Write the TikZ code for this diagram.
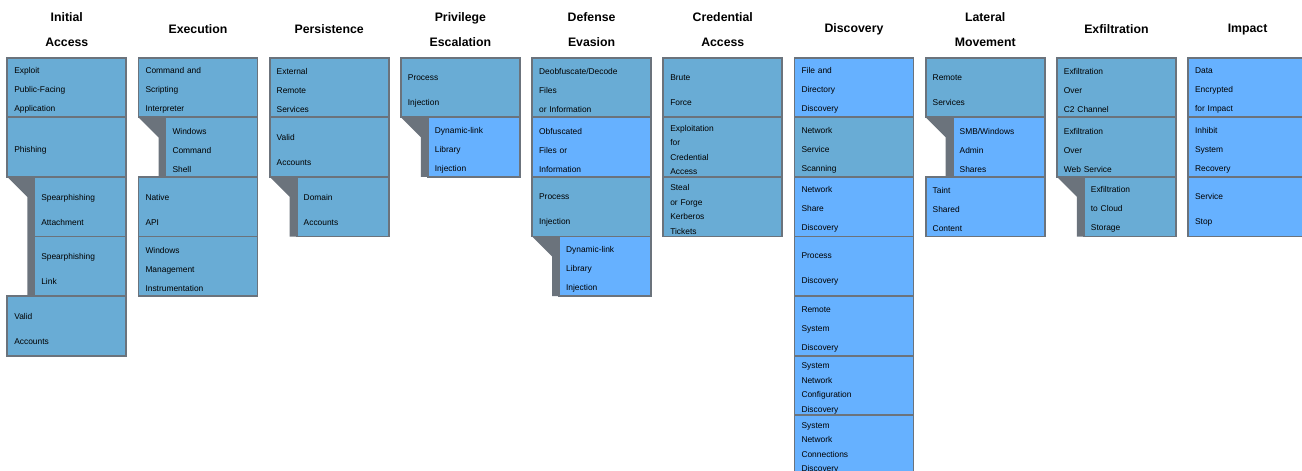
\documentclass[tikz,border=0pt]{standalone}
\usepackage{fontspec}
\setmainfont{Liberation Sans}
\definecolor{steel}{HTML}{69ACD5}
\definecolor{sky}{HTML}{66B1FF}
\definecolor{slate}{HTML}{6B737C}
\usetikzlibrary{calc, positioning, backgrounds}
\tikzset{
  tactic/.style={font=\fontsize{12.3}{25.5}\selectfont\bfseries, align=center},
  tech/.style={draw=slate, line width=1.8pt, outer sep=0pt, inner xsep=7pt, inner ysep=0pt,
    anchor=north west, minimum width=119pt, minimum height=59.6pt, text width=105pt,
    align=left, fill=steel, font=\fontsize{8.4}{19}\selectfont,
    execute at begin node={\rule{0pt}{12pt}}},
  sub/.style={tech, minimum width=92pt, text width=78pt},
  hit/.style={fill=sky},
  two/.style={font=\fontsize{8.4}{25}\selectfont},
  four/.style={font=\fontsize{8.4}{14.5}\selectfont},
  bar/.style={fill=slate},
}
\newcommand{\subbar}[3]{\fill[bar] (#1.south west) -- (#2.north west) -- (#2.west |- #3.south) -- ++(-7,0) -- ($(#1.south west)+(20,20)$) -- cycle;}

\begin{document}
\begin{tikzpicture}[x=1pt, y=-1pt]
  \useasboundingbox (0,0) rectangle (1302,471);
  \clip (0,0) rectangle (1302,471);

  % Initial Access
  \node[tech] (ia1) at (7.3,57.7) {Exploit\\Public-Facing\\Application};
  \node[tech] (ia2) at (ia1.south west) {Phishing};
  \node[sub, two, anchor=north east] (ia3) at (ia2.south east) {Spearphishing\\Attachment};
  \node[sub, two] (ia4) at (ia3.south west) {Spearphishing\\Link};
  \node[tech, two] (ia5) at (ia2.west |- ia4.south) {Valid\\Accounts};
  \node[tactic] (tia) at ($(ia1.north)+(0,-28.2)$) {Initial\\Access};

  % Execution
  \node[tech] (ex1) at ($(ia1.north west)+(131.2,0)$) {Command and\\Scripting\\Interpreter};
  \node[sub, anchor=north east] (ex2) at (ex1.south east) {Windows\\Command\\Shell};
  \node[tech, two] (ex3) at (ex1.west |- ex2.south) {Native\\API};
  \node[tech] (ex4) at (ex3.south west) {Windows\\Management\\Instrumentation};
  \node[tactic] (tex) at ($(ex1.north)+(0,-28.2)$) {Execution};

  % Persistence
  \node[tech] (pe1) at ($(ex1.north west)+(131.2,0)$) {External\\Remote\\Services};
  \node[tech, two] (pe2) at (pe1.south west) {Valid\\Accounts};
  \node[sub, two, anchor=north east] (pe3) at (pe2.south east) {Domain\\Accounts};
  \node[tactic] (tpe) at ($(pe1.north)+(0,-28.2)$) {Persistence};

  % Privilege Escalation
  \node[tech, two] (pr1) at ($(pe1.north west)+(131.2,0)$) {Process\\Injection};
  \node[sub, hit, anchor=north east] (pr2) at (pr1.south east) {Dynamic-link\\Library\\Injection};
  \node[tactic] (tpr) at ($(pr1.north)+(0,-28.2)$) {Privilege\\Escalation};

  % Defense Evasion
  \node[tech] (de1) at ($(pr1.north west)+(131.2,0)$) {Deobfuscate/Decode\\Files\\or Information};
  \node[tech, hit] (de2) at (de1.south west) {Obfuscated\\Files or\\Information};
  \node[tech, two] (de3) at (de2.south west) {Process\\Injection};
  \node[sub, hit, anchor=north east] (de4) at (de3.south east) {Dynamic-link\\Library\\Injection};
  \node[tactic] (tde) at ($(de1.north)+(0,-28.2)$) {Defense\\Evasion};

  % Credential Access
  \node[tech, two] (ca1) at ($(de1.north west)+(131.2,0)$) {Brute\\Force};
  \node[tech, four] (ca2) at (ca1.south west) {Exploitation\\for\\Credential\\Access};
  \node[tech, four] (ca3) at (ca2.south west) {Steal\\or Forge\\Kerberos\\Tickets};
  \node[tactic] (tca) at ($(ca1.north)+(0,-28.2)$) {Credential\\Access};

  % Discovery
  \node[tech, hit] (di1) at ($(ca1.north west)+(131.2,0)$) {File and\\Directory\\Discovery};
  \node[tech] (di2) at (di1.south west) {Network\\Service\\Scanning};
  \node[tech, hit] (di3) at (di2.south west) {Network\\Share\\Discovery};
  \node[tech, hit, two] (di4) at (di3.south west) {Process\\Discovery};
  \node[tech, hit] (di5) at (di4.south west) {Remote\\System\\Discovery};
  \node[tech, hit, four] (di6) at (di5.south west) {System\\Network\\Configuration\\Discovery};
  \node[tech, hit, four] (di7) at (di6.south west) {System\\Network\\Connections\\Discovery};
  \node[tactic] (tdi) at ($(di1.north)+(0,-28.2)$) {Discovery};

  % Lateral Movement
  \node[tech, two] (lm1) at ($(di1.north west)+(131.2,0)$) {Remote\\Services};
  \node[sub, hit, anchor=north east] (lm2) at (lm1.south east) {SMB/Windows\\Admin\\Shares};
  \node[tech, hit] (lm3) at (lm1.west |- lm2.south) {Taint\\Shared\\Content};
  \node[tactic] (tlm) at ($(lm1.north)+(0,-28.2)$) {Lateral\\Movement};

  % Exfiltration
  \node[tech] (ef1) at ($(lm1.north west)+(131.2,0)$) {Exfiltration\\Over\\C2 Channel};
  \node[tech] (ef2) at (ef1.south west) {Exfiltration\\Over\\Web Service};
  \node[sub, anchor=north east] (ef3) at (ef2.south east) {Exfiltration\\to Cloud\\Storage};
  \node[tactic] (tef) at ($(ef1.north)+(0,-28.2)$) {Exfiltration};

  % Impact - cut off at the right edge
  \node[tech, hit] (im1) at ($(ef1.north west)+(131.2,0)$) {Data\\Encrypted\\for Impact};
  \node[tech, hit] (im2) at (im1.south west) {Inhibit\\System\\Recovery};
  \node[tech, hit, two] (im3) at (im2.south west) {Service\\Stop};
  \node[tactic] (tim) at ($(im1.north)+(0,-28.2)$) {Impact};

  % sub-technique side bars
  \begin{scope}[on background layer]
    \subbar{ia2}{ia3}{ia4}
    \subbar{ex1}{ex2}{ex2}
    \subbar{pe2}{pe3}{pe3}
    \subbar{pr1}{pr2}{pr2}
    \subbar{de3}{de4}{de4}
    \subbar{lm1}{lm2}{lm2}
    \subbar{ef2}{ef3}{ef3}
  \end{scope}
\end{tikzpicture}
\end{document}
